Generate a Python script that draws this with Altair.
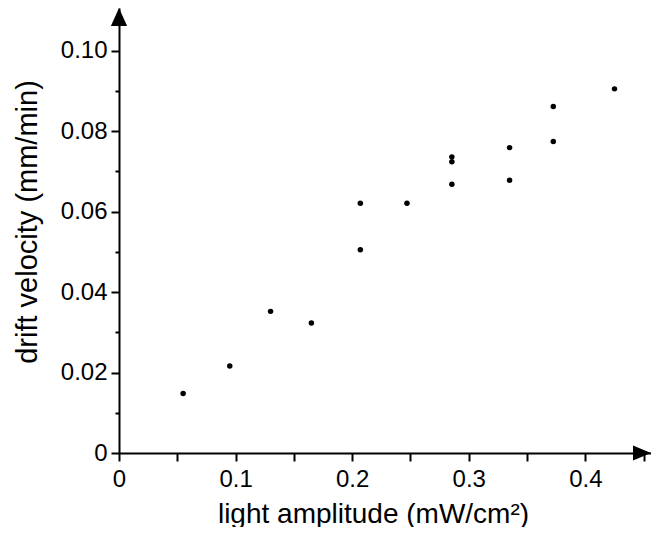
import altair as alt
import pandas as pd

# data
amplitude = [0.055, 0.095, 0.130, 0.165, 0.207, 0.207, 0.247, 0.2855, 0.2855, 0.2855,
             0.335, 0.335, 0.3725, 0.3725, 0.425]
velocity = [0.0148, 0.0216, 0.0352, 0.0323, 0.0621, 0.0505, 0.0621, 0.0736, 0.0724,
            0.0668, 0.0759, 0.0678, 0.0861, 0.0774, 0.0905]

x_ticks = [0, 0.025, 0.05, 0.075, 0.1, 0.125, 0.15, 0.175, 0.2, 0.225, 0.25, 0.275,
           0.3, 0.325, 0.35, 0.375, 0.4, 0.425, 0.45]
y_ticks = [0, 0.01, 0.02, 0.03, 0.04, 0.05, 0.06, 0.07, 0.08, 0.09, 0.10]

X_MAX = 0.4563
Y_MAX = 0.1106

df = pd.DataFrame({"x": amplitude, "y": velocity})
xarrow_df = pd.DataFrame({"x": [X_MAX], "y": [0.0]})
yarrow_df = pd.DataFrame({"x": [0.0], "y": [Y_MAX]})

xscale = alt.Scale(domain=[0, X_MAX], nice=False, zero=False)
yscale = alt.Scale(domain=[0, Y_MAX], nice=False, zero=False)

FONT = "Liberation Sans"

x_axis = alt.Axis(
    values=x_ticks,
    title="light amplitude (mW/cm²)",
    tickSize={"condition": {"test": "abs(datum.value*20 - round(datum.value*20)) < 0.000001", "value": 8}, "value": 4},
    labelExpr="abs(datum.value*10 - round(datum.value*10)) < 0.000001 ? (datum.value == 0 ? '0' : format(datum.value, '.1f')) : ''",
    labelFlush=False,
    labelPadding=6,
    titlePadding=9,
    titleX=254,
)
y_axis = alt.Axis(
    values=y_ticks,
    title="drift velocity (mm/min)",
    tickSize={"condition": {"test": "abs(datum.value*50 - round(datum.value*50)) < 0.000001", "value": 8}, "value": 4},
    labelExpr="abs(datum.value*50 - round(datum.value*50)) < 0.000001 ? (datum.value == 0 ? '0' : format(datum.value, '.2f')) : ''",
    labelFlush=False,
    labelPadding=4,
    titlePadding=18,
    titleFontSize=29,
    titleY=213.5,
)

points = alt.Chart(df).mark_point(filled=True, color="black", opacity=1, size=30, strokeWidth=0).encode(
    x=alt.X("x:Q", scale=xscale, axis=x_axis),
    y=alt.Y("y:Q", scale=yscale, axis=y_axis),
)

xarrow = alt.Chart(xarrow_df).mark_point(
    filled=True, color="black", opacity=1, size=1296, strokeWidth=0,
    shape="M0,0 L-1,-0.42 L-1,0.42 Z",
).encode(x=alt.X("x:Q", scale=xscale), y=alt.Y("y:Q", scale=yscale))

yarrow = alt.Chart(yarrow_df).mark_point(
    filled=True, color="black", opacity=1, size=1296, strokeWidth=0,
    shape="M0,0 L-0.45,1 L0.45,1 Z",
).encode(x=alt.X("x:Q", scale=xscale), y=alt.Y("y:Q", scale=yscale))

chart = alt.layer(points, xarrow, yarrow).properties(
    width=532,
    height=445,
    padding={"left": 111, "top": 0, "right": 0, "bottom": 74},
    autosize=alt.AutoSizeParams(type="none"),
).configure_view(stroke=None).configure_axis(
    grid=False,
    domainColor="black",
    domainWidth=2,
    tickColor="black",
    tickWidth=2,
    labelFont=FONT,
    labelFontSize=24,
    labelColor="black",
    titleFont=FONT,
    titleFontSize=28,
    titleFontWeight="normal",
    titleColor="black",
)

chart.save("out.html", embed_options={"renderer": "svg", "actions": False})
